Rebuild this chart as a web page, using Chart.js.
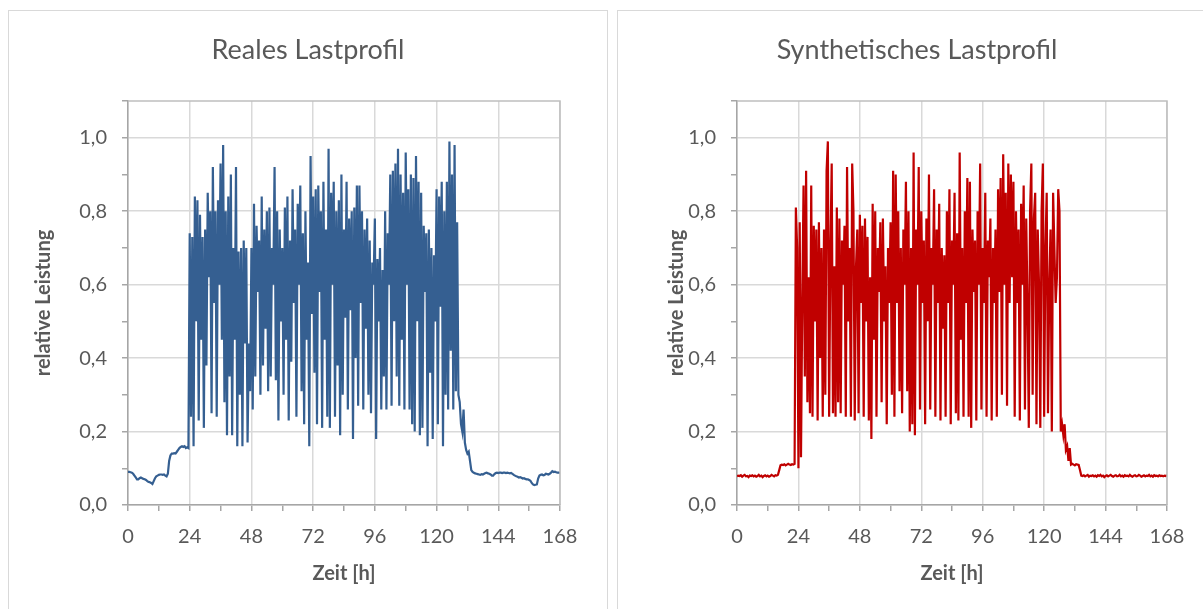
<!DOCTYPE html>
<html>
<head>
<meta charset="utf-8">
<script src="https://cdn.jsdelivr.net/npm/chart.js@4.4.0/dist/chart.umd.min.js"></script>
<style>
  html, body { margin: 0; padding: 0; background: #fff; overflow: hidden; }
  .panel { position: absolute; top: 10px; width: 598px; height: 620px; border: 1px solid #d9d9d9; }
  #p1 { left: 8px; }
  #p2 { left: 617px; }
  canvas { display: block; }
</style>
</head>
<body>
<div class="panel" id="p1"><canvas id="real" width="598" height="598"></canvas></div>
<div class="panel" id="p2"><canvas id="synth" width="598" height="598"></canvas></div>
<script>
// time step of the load profiles in hours
const stepH = 0.5

const xTicks = [0, 24, 48, 72, 96, 120, 144, 168]
const yTicks = [0, 0.2, 0.4, 0.6, 0.8, 1.0]

// Reales Lastprofil, 0 - 23.5 h
const realNight1 = [
    0.090, 0.090, 0.089, 0.088, 0.085, 0.080, 0.075, 0.070, 0.070, 0.073,
    0.075, 0.073, 0.071, 0.070, 0.068, 0.065, 0.063, 0.062, 0.060, 0.057,
    0.065, 0.073, 0.078, 0.080, 0.082, 0.083, 0.083, 0.082, 0.083, 0.080,
    0.078, 0.085, 0.120, 0.135, 0.140, 0.140, 0.141, 0.140, 0.145, 0.150,
    0.155, 0.158, 0.160, 0.158, 0.160, 0.155, 0.157, 0.155
]
// 24 - 128 h
const realWeek = [
    0.74, 0.24, 0.73, 0.16, 0.84, 0.50, 0.83, 0.23, 0.79, 0.45, 0.73, 0.21,
    0.75, 0.38, 0.85, 0.62, 0.80, 0.25, 0.92, 0.55, 0.80, 0.24, 0.83, 0.60,
    0.93, 0.45, 0.98, 0.28, 0.80, 0.19, 0.84, 0.35, 0.90, 0.19, 0.70, 0.45,
    0.92, 0.16, 0.69, 0.30, 0.70, 0.16, 0.72, 0.44, 0.70, 0.17, 0.44, 0.31,
    0.70, 0.26, 0.82, 0.35, 0.76, 0.58, 0.72, 0.30, 0.84, 0.38, 0.75, 0.48,
    0.80, 0.31, 0.81, 0.35, 0.70, 0.60, 0.92, 0.34, 0.80, 0.23, 0.75, 0.50,
    0.70, 0.30, 0.81, 0.45, 0.84, 0.23, 0.72, 0.39, 0.86, 0.55, 0.75, 0.24,
    0.82, 0.60, 0.87, 0.31, 0.74, 0.22, 0.80, 0.45, 0.66, 0.16, 0.95, 0.52,
    0.84, 0.36, 0.86, 0.22, 0.87, 0.58, 0.80, 0.21, 0.88, 0.45, 0.75, 0.24,
    0.97, 0.21, 0.85, 0.60, 0.88, 0.24, 0.80, 0.38, 0.83, 0.19, 0.90, 0.30,
    0.75, 0.51, 0.88, 0.26, 0.78, 0.53, 0.80, 0.18, 0.81, 0.40, 0.87, 0.27,
    0.87, 0.55, 0.80, 0.26, 0.75, 0.48, 0.78, 0.30, 0.72, 0.25, 0.66, 0.60,
    0.78, 0.18, 0.67, 0.50, 0.70, 0.26, 0.64, 0.35, 0.80, 0.26, 0.74, 0.60,
    0.90, 0.27, 0.91, 0.50, 0.93, 0.35, 0.97, 0.27, 0.90, 0.45, 0.85, 0.26,
    0.96, 0.60, 0.86, 0.26, 0.90, 0.22, 0.89, 0.20, 0.95, 0.50, 0.88, 0.19,
    0.85, 0.21, 0.76, 0.58, 0.74, 0.16, 0.75, 0.36, 0.70, 0.18, 0.68, 0.50,
    0.86, 0.22, 0.84, 0.54, 0.88, 0.16, 0.80, 0.30, 0.88, 0.26, 0.99, 0.42,
    0.90, 0.26, 0.98, 0.31, 0.77
]
// 128.5 - 168 h
const realNight2 = [
    0.300, 0.280, 0.220, 0.200, 0.260, 0.170, 0.150, 0.140, 0.145, 0.120,
    0.095, 0.090, 0.088, 0.086, 0.085, 0.084, 0.083, 0.082, 0.084, 0.083,
    0.085, 0.087, 0.088, 0.086, 0.085, 0.083, 0.080, 0.080, 0.084, 0.087,
    0.088, 0.087, 0.088, 0.088, 0.087, 0.088, 0.088, 0.087, 0.088, 0.087,
    0.086, 0.087, 0.085, 0.082, 0.080, 0.078, 0.077, 0.075, 0.076, 0.074,
    0.072, 0.073, 0.071, 0.070, 0.070, 0.068, 0.066, 0.060, 0.056, 0.054,
    0.055, 0.056, 0.072, 0.080, 0.082, 0.083, 0.081, 0.082, 0.085, 0.084,
    0.083, 0.085, 0.088, 0.092, 0.090, 0.091, 0.089, 0.088, 0.088, 0.087
]

// Synthetisches Lastprofil, 0 - 22.5 h
const synthNight1 = [
    0.078, 0.080, 0.079, 0.081, 0.077, 0.080, 0.082, 0.078, 0.079, 0.076,
    0.080, 0.079, 0.081, 0.078, 0.080, 0.077, 0.079, 0.082, 0.078, 0.080,
    0.076, 0.079, 0.081, 0.078, 0.080, 0.077, 0.079, 0.082, 0.080, 0.078,
    0.081, 0.080, 0.082, 0.095, 0.108, 0.110, 0.109, 0.111, 0.108, 0.110,
    0.112, 0.110, 0.109, 0.111, 0.110, 0.112
]
// 23 - 127 h
const synthWeek = [
    0.81, 0.70, 0.10, 0.77, 0.13, 0.55, 0.87, 0.35, 0.91, 0.28, 0.62, 0.25,
    0.87, 0.24, 0.76, 0.50, 0.75, 0.23, 0.77, 0.40, 0.70, 0.24, 0.75, 0.30,
    0.91, 0.99, 0.24, 0.70, 0.93, 0.25, 0.65, 0.24, 0.81, 0.28, 0.78, 0.25,
    0.72, 0.60, 0.76, 0.24, 0.92, 0.50, 0.70, 0.24, 0.93, 0.80, 0.23, 0.65,
    0.75, 0.25, 0.79, 0.55, 0.76, 0.24, 0.78, 0.50, 0.73, 0.23, 0.62, 0.18,
    0.82, 0.45, 0.80, 0.24, 0.70, 0.58, 0.77, 0.28, 0.78, 0.50, 0.65, 0.22,
    0.70, 0.55, 0.77, 0.30, 0.91, 0.24, 0.90, 0.55, 0.80, 0.31, 0.70, 0.25,
    0.75, 0.60, 0.88, 0.31, 0.80, 0.20, 0.70, 0.22, 0.96, 0.19, 0.75, 0.60,
    0.92, 0.26, 0.80, 0.55, 0.72, 0.22, 0.78, 0.50, 0.90, 0.26, 0.70, 0.60,
    0.86, 0.24, 0.75, 0.55, 0.82, 0.23, 0.70, 0.48, 0.68, 0.24, 0.80, 0.55,
    0.86, 0.22, 0.72, 0.60, 0.85, 0.25, 0.74, 0.23, 0.96, 0.45, 0.70, 0.24,
    0.80, 0.55, 0.89, 0.24, 0.88, 0.21, 0.75, 0.58, 0.72, 0.23, 0.80, 0.60,
    0.93, 0.26, 0.70, 0.55, 0.85, 0.24, 0.72, 0.62, 0.78, 0.23, 0.70, 0.55,
    0.75, 0.24, 0.86, 0.58, 0.89, 0.30, 0.955, 0.60, 0.85, 0.27, 0.93, 0.55,
    0.90, 0.62, 0.88, 0.24, 0.80, 0.55, 0.75, 0.23, 0.82, 0.60, 0.87, 0.26,
    0.78, 0.55, 0.21, 0.80, 0.93, 0.30, 0.78, 0.85, 0.22, 0.75, 0.60, 0.21,
    0.80, 0.93, 0.24, 0.70, 0.85, 0.25, 0.60, 0.75, 0.20, 0.85, 0.70, 0.55,
    0.62, 0.86, 0.80, 0.20, 0.22
]
// 127.5 - 168 h
const synthNight2 = [
    0.190, 0.220, 0.150, 0.160, 0.120, 0.155, 0.110, 0.112, 0.110, 0.108,
    0.111, 0.110, 0.109, 0.095, 0.080,
    0.079, 0.081, 0.078, 0.080, 0.082, 0.077, 0.080, 0.079, 0.081, 0.078,
    0.080, 0.077, 0.081, 0.079, 0.082, 0.078, 0.080, 0.076, 0.079, 0.081,
    0.078, 0.080, 0.082, 0.079, 0.077, 0.080, 0.081, 0.078, 0.079, 0.082,
    0.078, 0.080, 0.077, 0.081, 0.079, 0.080, 0.078, 0.082, 0.079, 0.077,
    0.080, 0.081, 0.078, 0.079, 0.082, 0.080, 0.077, 0.079, 0.081, 0.078,
    0.080, 0.079, 0.082, 0.078, 0.080, 0.077, 0.081, 0.079, 0.080, 0.078,
    0.081, 0.079, 0.080, 0.078, 0.080, 0.079, 0.081
]

const realLoad = realNight1.concat(realWeek, realNight2)
const synthLoad = synthNight1.concat(synthWeek, synthNight2)

const textColor = '#595959'
const gridColor = '#d9d9d9'
const axisColor = '#a6a6a6'

function isLabelled(list, value) {
    return list.some(t => Math.abs(t - value) < 1e-6)
}

// top and right edge of the plot area
const plotFrame = {
    id: 'plotFrame',
    afterDraw(chart) {
        const { ctx, chartArea: a } = chart
        ctx.save()
        ctx.strokeStyle = '#bfbfbf'
        ctx.lineWidth = 1.5
        ctx.beginPath()
        ctx.moveTo(a.left, a.top)
        ctx.lineTo(a.right, a.top)
        ctx.lineTo(a.right, a.bottom)
        ctx.stroke()
        ctx.restore()
    }
}

function makeChart(id, title, values, color, yTitlePad, padRight) {
    new Chart(document.getElementById(id).getContext('2d'), {
        type: 'line',
        data: {
            datasets: [{
                label: title,
                data: values.map((v, i) => ({ x: i * stepH, y: v })),
                borderColor: color,
                backgroundColor: 'transparent',
                borderWidth: 2.2,
                pointRadius: 0,
                tension: 0
            }]
        },
        options: {
            responsive: false,
            animation: false,
            layout: { padding: 0 },
            plugins: {
                legend: { display: false },
                tooltip: { enabled: false },
                title: {
                    display: true,
                    text: title,
                    color: textColor,
                    font: { family: 'Lato', size: 27, weight: 'normal' },
                    padding: { top: 23, bottom: 34.6 }
                }
            },
            scales: {
                x: {
                    type: 'linear',
                    min: 0,
                    max: 168,
                    afterFit: s => { s.height = 104 },
                    ticks: {
                        stepSize: 12,
                        autoSkip: false,
                        maxRotation: 0,
                        padding: 14,
                        color: textColor,
                        font: { family: 'Lato', size: 20 },
                        callback: v => isLabelled(xTicks, v) ? String(v) : ''
                    },
                    grid: {
                        color: c => c.tick && isLabelled(xTicks, c.tick.value) ? gridColor : 'rgba(0,0,0,0)',
                        lineWidth: 1.5,
                        tickColor: axisColor,
                        tickLength: 6
                    },
                    border: { color: axisColor, width: 1.5 },
                    title: {
                        display: true,
                        text: 'Zeit [h]',
                        color: textColor,
                        font: { family: 'Lato', size: 20, weight: 'bold' },
                        padding: { top: 0, bottom: 23 }
                    }
                },
                y: {
                    min: 0,
                    max: 1.1,
                    afterFit: s => { s.width = 119 },
                    ticks: {
                        stepSize: 0.1,
                        autoSkip: false,
                        padding: 15,
                        color: textColor,
                        font: { family: 'Lato', size: 20 },
                        callback: v => isLabelled(yTicks, v) ? v.toFixed(1).replace('.', ',') : ''
                    },
                    grid: {
                        color: c => c.tick && isLabelled(yTicks, c.tick.value) ? gridColor : 'rgba(0,0,0,0)',
                        lineWidth: 1.5,
                        tickColor: axisColor,
                        tickLength: 6
                    },
                    border: { color: axisColor, width: 1.5 },
                    title: {
                        display: true,
                        text: 'relative Leistung',
                        color: textColor,
                        font: { family: 'Lato', size: 20, weight: 'bold' },
                        padding: { top: yTitlePad, bottom: 0 }
                    }
                },
                // empty right margin, keeps the chart title centred on the panel
                yRight: {
                    position: 'right',
                    display: true,
                    afterFit: s => { s.width = padRight },
                    ticks: { display: false },
                    grid: { display: false },
                    border: { display: false }
                }
            }
        },
        plugins: [plotFrame]
    })
}

makeChart('real', 'Reales Lastprofil', realLoad, '#355f91', 23, 47)
makeChart('synth', 'Synthetisches Lastprofil', synthLoad, '#c00000', 47, 49)
</script>
</body>
</html>
